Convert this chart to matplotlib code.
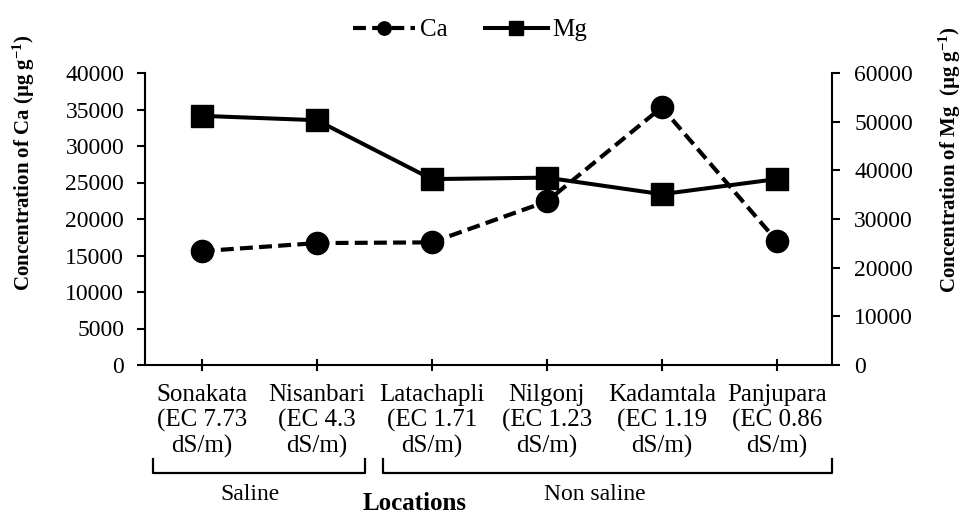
import matplotlib
matplotlib.use('Agg')
import matplotlib.pyplot as plt
from matplotlib.transforms import blended_transform_factory
from matplotlib.lines import Line2D

plt.rcParams['font.family'] = ['Liberation Serif', 'DejaVu Serif']
plt.rcParams['mathtext.fontset'] = 'custom'
plt.rcParams['mathtext.rm'] = 'Liberation Serif:bold'
plt.rcParams['mathtext.bf'] = 'Liberation Serif:bold'
plt.rcParams['mathtext.default'] = 'rm'

# ---- data ----
locations = ['Sonakata', 'Nisanbari', 'Latachapli', 'Nilgonj', 'Kadamtala', 'Panjupara']
ec_values = ['7.73', '4.3', '1.71', '1.23', '1.19', '0.86']
ca = [15600, 16700, 16800, 22400, 35300, 17000]
mg = [51200, 50300, 38200, 38500, 35100, 38200]
ca_ticks = list(range(0, 40001, 5000))
mg_ticks = list(range(0, 60001, 10000))
groups = [('Saline', 0, 1), ('Non saline', 2, 5)]

W, H = 966, 516
fig = plt.figure(figsize=(W / 100, H / 100), dpi=100)
ax = fig.add_axes([145 / W, 1 - 365 / H, (832 - 145) / W, (365 - 73) / H])
ax2 = ax.twinx()

x = list(range(len(locations)))
l1, = ax.plot(x, ca, ls=(0, (3.1, 1.5)), lw=3, color='black', marker='o', ms=16, label='Ca')
l2, = ax2.plot(x, mg, ls='-', lw=2.9, color='black', marker='s', ms=16, label='Mg')

xl, xr = -0.493, 5.48
ax.set_xlim(xl, xr)
ax.set_ylim(0, 40000)
ax2.set_ylim(0, 60000)
ax.set_yticks(ca_ticks)
ax2.set_yticks(mg_ticks)
ax.set_xticks(x)
ax.set_xticklabels([f"{n}\n(EC {e}\ndS/m)" for n, e in zip(locations, ec_values)])
for lbl in ax.get_xticklabels():
    lbl.set_linespacing(1.16)

for a in (ax, ax2):
    a.spines['top'].set_visible(False)
    for s in a.spines.values():
        s.set_linewidth(1.5)
ax.spines['right'].set_visible(False)
ax2.spines['left'].set_visible(False)
ax2.spines['bottom'].set_visible(False)

ax.tick_params(axis='y', direction='out', length=6, width=1.5, labelsize=17, pad=9)
ax.tick_params(axis='x', direction='inout', length=8, width=1.5, labelsize=18, pad=10)
ax2.tick_params(axis='y', direction='out', length=6, width=1.5, labelsize=17, pad=10)

# legend
fig.legend([l1, l2], ['Ca', 'Mg'], loc='center', bbox_to_anchor=(470 / W, 1 - 30 / H),
           ncol=2, frameon=False, fontsize=18, handlelength=2.5, handletextpad=0.2,
           columnspacing=1.5, markerscale=0.6)

# group brackets
trans = blended_transform_factory(ax.transData, fig.transFigure)
yb = 1 - 473 / H
yt = 1 - 459 / H
for i, (name, s, e) in enumerate(groups):
    x0 = s - 0.42
    x1 = xr if i == len(groups) - 1 else e + 0.42
    fig.add_artist(Line2D([x0, x0, x1, x1], [yt, yb, yb, yt], transform=trans,
                          color='black', lw=1.6))
    fig.text((s + e) / 2 - 0.08, 1 - 495 / H, name, transform=trans, ha='center',
             va='center', fontsize=17)

fig.text(415 / W, 1 - 504 / H, 'Locations', ha='center', va='center', fontsize=18,
         fontweight='bold')

fig.text(24 / W, 1 - 163 / H, 'Concentration of Ca (µg g$^{-1}$)', rotation=90,
         ha='center', va='center', fontsize=15, fontweight='bold')
fig.text(950 / W, 1 - 160 / H, 'Concentration of Mg  (µg g$^{-1}$)', rotation=90,
         ha='center', va='center', fontsize=15, fontweight='bold')

fig.savefig('out.png', dpi=100)
